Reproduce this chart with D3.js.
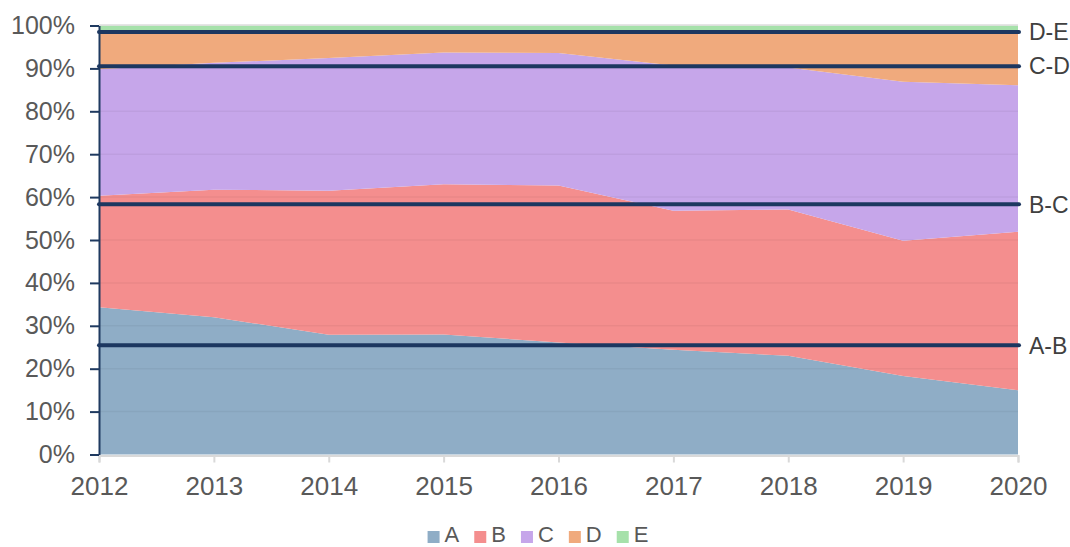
<!DOCTYPE html>
<html>
<head>
<meta charset="utf-8">
<script src="https://cdn.jsdelivr.net/npm/d3@7"></script>
<style>
  body { margin: 0; background: #fff; }
  text { font-family: "Liberation Sans", Arial, sans-serif; }
</style>
</head>
<body>
<div id="chart"></div>
<script>
// data (percent of total per year)
const years = [2012, 2013, 2014, 2015, 2016, 2017, 2018, 2019, 2020];
const seriesNames = ["A", "B", "C", "D", "E"];
const valuesA = [34.3, 32.0, 27.9, 28.0, 26.1, 24.4, 23.0, 18.3, 15.0];
const valuesB = [26.0, 29.7, 33.6, 35.0, 36.6, 32.4, 34.1, 31.5, 36.9];
const valuesC = [29.5, 29.6, 30.9, 30.7, 30.9, 33.9, 33.1, 37.1, 34.2];
const valuesD = [8.7, 7.2, 6.1, 4.8, 4.9, 7.8, 8.3, 11.6, 12.4];
const valuesE = [1.5, 1.5, 1.5, 1.5, 1.5, 1.5, 1.5, 1.5, 1.5];
const yTicks = [0, 10, 20, 30, 40, 50, 60, 70, 80, 90, 100];
const boundaryNames = ["A-B", "B-C", "C-D", "D-E"];

const colors = ["#8fadc6", "#f48e8e", "#c6a6ea", "#f0aa7d", "#a6e1aa"];

// build table for the stack
const rows = years.map((yr, i) => ({
    year: yr, A: valuesA[i], B: valuesB[i], C: valuesC[i], D: valuesD[i], E: valuesE[i]
}));

const svg = d3.select("#chart").append("svg")
    .attr("width", 1070)
    .attr("height", 547);

const plotLeft = 99, plotRight = 1018, plotTop = 25.5, plotBottom = 454.5;

const x = d3.scaleLinear().domain([2012, 2020]).range([plotLeft, plotRight]);
const y = d3.scaleLinear().domain([0, 100]).range([plotBottom, plotTop]);

const stacked = d3.stack().keys(seriesNames)(rows);

const area = d3.area()
    .x(d => x(d.data.year))
    .y0(d => y(d[0]))
    .y1(d => y(d[1]));

// areas
svg.append("g").selectAll("path")
    .data(stacked)
    .join("path")
    .attr("d", area)
    .attr("fill", (d, i) => colors[i]);

// faint gridlines over the areas
svg.append("g").selectAll("line")
    .data(yTicks.filter(t => t > 0 && t < 100))
    .join("line")
    .attr("x1", plotLeft).attr("x2", plotRight)
    .attr("y1", d => y(d)).attr("y2", d => y(d))
    .attr("stroke", "rgba(0,0,0,0.045)")
    .attr("stroke-width", 1.5);

// light top border
svg.append("line")
    .attr("x1", plotLeft).attr("x2", plotRight)
    .attr("y1", plotTop - 0.5).attr("y2", plotTop - 0.5)
    .attr("stroke", "#dcdcdc").attr("stroke-width", 1.5);

// bottom axis
const xAxis = svg.append("g")
    .attr("transform", "translate(0," + (plotBottom + 1) + ")")
    .call(d3.axisBottom(x).tickValues(years).tickFormat(d3.format("d")).tickSize(7).tickPadding(14));
xAxis.select(".domain").attr("stroke", "#d9d9d9").attr("stroke-width", 2);
xAxis.selectAll(".tick line").attr("stroke", "#d9d9d9").attr("stroke-width", 2);
xAxis.selectAll(".tick text")
    .attr("fill", "#595959")
    .style("font-size", "26px")
    .style("font-family", "Liberation Sans, Arial, sans-serif");

// left axis
const yAxis = svg.append("g")
    .attr("transform", "translate(" + plotLeft + ",0)")
    .call(d3.axisLeft(y).tickValues(yTicks).tickFormat(d => d + "%").tickSize(9).tickSizeOuter(0).tickPadding(15));
yAxis.select(".domain").attr("stroke", "#1f3a60").attr("stroke-width", 2);
yAxis.selectAll(".tick line").attr("stroke", "#1f3a60").attr("stroke-width", 2);
yAxis.selectAll(".tick text")
    .attr("fill", "#595959")
    .style("font-size", "25px")
    .style("font-family", "Liberation Sans, Arial, sans-serif");

// horizontal lines at the mean of each boundary
const seriesLists = [valuesA, valuesB, valuesC, valuesD];
const boundaryMeans = boundaryNames.map((name, k) => {
    const tops = years.map((yr, i) => d3.sum(seriesLists.slice(0, k + 1), s => s[i]));
    return { name: name, value: d3.mean(tops) };
});

const refs = svg.append("g");
refs.selectAll("line")
    .data(boundaryMeans)
    .join("line")
    .attr("x1", plotLeft).attr("x2", plotRight + 1)
    .attr("y1", d => y(d.value)).attr("y2", d => y(d.value))
    .attr("stroke", "#1c3760")
    .attr("stroke-width", 4)
    .attr("stroke-linecap", "round");

refs.selectAll("text")
    .data(boundaryMeans)
    .join("text")
    .attr("x", plotRight + 11)
    .attr("y", d => y(d.value))
    .attr("dy", "0.36em")
    .attr("fill", "#404040")
    .style("font-size", "23px")
    .text(d => d.name);

// legend
const legend = svg.append("g");
let lx = 0;
seriesNames.forEach((name, i) => {
    const item = legend.append("g").attr("transform", "translate(" + lx + ",0)");
    item.append("rect")
        .attr("x", 0).attr("y", 531)
        .attr("width", 12).attr("height", 12)
        .attr("fill", colors[i]);
    const t = item.append("text")
        .attr("x", 17).attr("y", 542)
        .attr("fill", "#595959")
        .style("font-size", "22px")
        .text(name);
    lx += 17 + t.node().getComputedTextLength() + 15;
});
const legendW = lx - 15;
legend.attr("transform", "translate(" + (538 - legendW / 2) + ",0)");
</script>
</body>
</html>
